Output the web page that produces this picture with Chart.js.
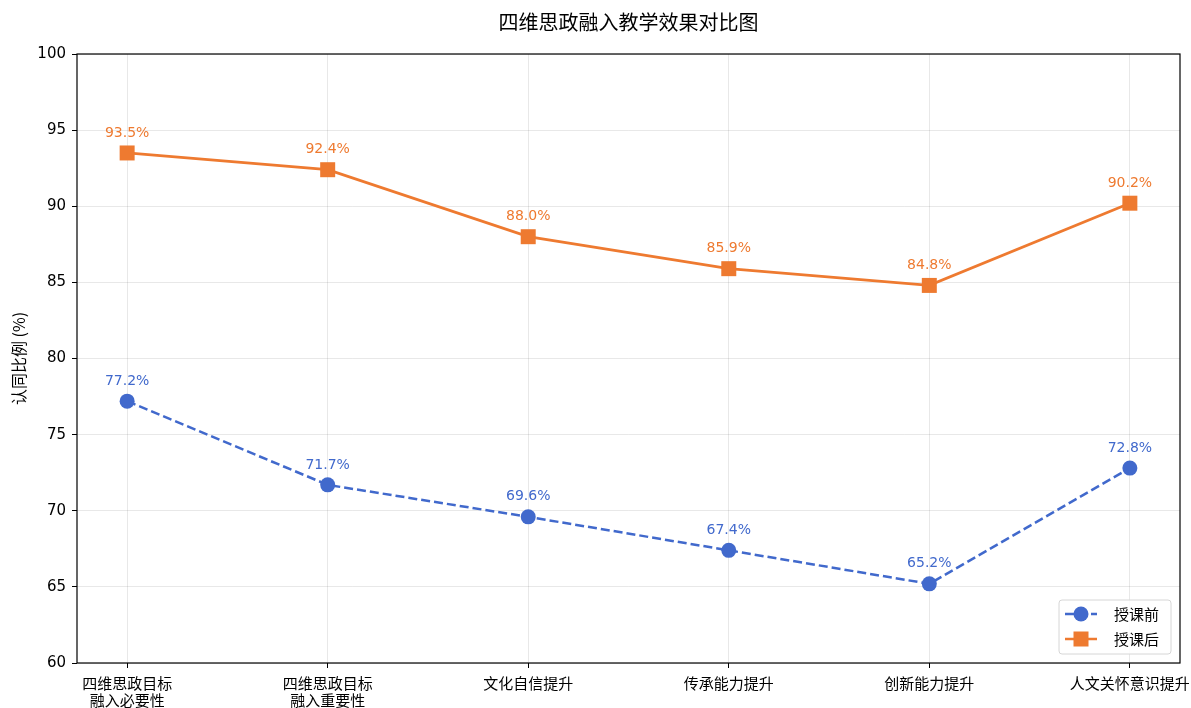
<!DOCTYPE html>
<html>
<head>
<meta charset="utf-8">
<script src="https://cdn.jsdelivr.net/npm/chart.js@4.4.1/dist/chart.umd.min.js"></script>
<style>
  html, body { margin: 0; padding: 0; background: #fff; }
  #wrap { width: 1191px; height: 708px; }
</style>
</head>
<body>
<div id="wrap"><canvas id="c" width="1191" height="708"></canvas></div>
<script>
const categories = [['四维思政目标', '融入必要性'], ['四维思政目标', '融入重要性'], '文化自信提升', '传承能力提升', '创新能力提升', '人文关怀意识提升'];
const beforeValues = [77.2, 71.7, 69.6, 67.4, 65.2, 72.8];
const afterValues = [93.5, 92.4, 88.0, 85.9, 84.8, 90.2];
const yTicks = [60, 65, 70, 75, 80, 85, 90, 95, 100];

const BLUE = '#4169CC';
const ORANGE = '#EE7A30';
const CJK = '"Noto Sans CJK SC", "Noto Sans", sans-serif';
const NUM = '"DejaVu Sans", "Noto Sans", sans-serif';

function toPoints(vals) {
    return vals.map((v, i) => ({ x: i, y: v }));
}

// value labels above every point
const valueLabels = {
    id: 'valueLabels',
    afterDatasetsDraw(chart) {
        const ctx = chart.ctx;
        ctx.save();
        ctx.font = '14px ' + NUM;
        ctx.textAlign = 'center';
        ctx.textBaseline = 'middle';
        chart.data.datasets.forEach((ds, di) => {
            const meta = chart.getDatasetMeta(di);
            ctx.fillStyle = ds.borderColor;
            meta.data.forEach((pt, i) => {
                ctx.fillText(ds.data[i].y.toFixed(1) + '%', pt.x, pt.y - 20);
            });
        });
        ctx.restore();
    }
};

// spines, title, y title and legend like the original
const frame = {
    id: 'frame',
    afterDraw(chart) {
        const ctx = chart.ctx;
        const a = chart.chartArea;
        ctx.save();
        ctx.strokeStyle = '#000';
        ctx.lineWidth = 1.2;
        ctx.strokeRect(a.left, a.top, a.right - a.left, a.bottom - a.top);

        ctx.fillStyle = '#000';
        ctx.font = '20px ' + CJK;
        ctx.textAlign = 'center';
        ctx.textBaseline = 'middle';
        ctx.fillText('四维思政融入教学效果对比图', (a.left + a.right) / 2, 22);

        ctx.save();
        ctx.translate(19, (a.top + a.bottom) / 2);
        ctx.rotate(-Math.PI / 2);
        ctx.font = '16px ' + CJK;
        ctx.fillText('认同比例 (%)', 0, 0);
        ctx.restore();

        // legend box
        const bx = 1059, by = 600, bw = 112, bh = 54;
        ctx.fillStyle = 'rgba(255,255,255,0.85)';
        ctx.strokeStyle = '#d6d6d6';
        ctx.lineWidth = 1;
        ctx.beginPath();
        ctx.roundRect(bx, by, bw, bh, 3);
        ctx.fill();
        ctx.stroke();
        chart.data.datasets.forEach((ds, i) => {
            const y = by + 14 + i * 25;
            ctx.strokeStyle = ds.borderColor;
            ctx.lineWidth = 2.5;
            ctx.setLineDash(ds.borderDash || []);
            ctx.beginPath();
            ctx.moveTo(bx + 6, y);
            ctx.lineTo(bx + 38, y);
            ctx.stroke();
            ctx.setLineDash([]);
            ctx.fillStyle = ds.borderColor;
            if (ds.pointStyle === 'rect') {
                ctx.fillRect(bx + 22 - 7.5, y - 7.5, 15, 15);
            } else {
                ctx.beginPath();
                ctx.arc(bx + 22, y, 7.5, 0, Math.PI * 2);
                ctx.fill();
            }
            ctx.fillStyle = '#000';
            ctx.font = '15px ' + CJK;
            ctx.textAlign = 'left';
            ctx.fillText(ds.label, bx + 55, y);
        });
        ctx.restore();
    }
};

new Chart(document.getElementById('c'), {
    type: 'line',
    data: {
        datasets: [
            {
                label: '授课前',
                data: toPoints(beforeValues),
                borderColor: BLUE,
                backgroundColor: BLUE,
                borderWidth: 2.5,
                borderDash: [9, 4],
                pointStyle: 'circle',
                pointRadius: 7.5,
                pointHoverRadius: 7.5,
                pointBorderWidth: 0,
                tension: 0
            },
            {
                label: '授课后',
                data: toPoints(afterValues),
                borderColor: ORANGE,
                backgroundColor: ORANGE,
                borderWidth: 2.8,
                pointStyle: 'rect',
                pointRadius: 10.6,
                pointHoverRadius: 10.6,
                pointBorderWidth: 0,
                tension: 0
            }
        ]
    },
    options: {
        responsive: false,
        animation: false,
        events: [],
        layout: { autoPadding: false, padding: { left: 0, right: 11, top: 54, bottom: 0 } },
        plugins: {
            legend: { display: false },
            title: { display: false },
            tooltip: { enabled: false }
        },
        scales: {
            x: {
                type: 'linear',
                min: -0.25,
                max: 5.25,
                afterBuildTicks(scale) {
                    scale.ticks = categories.map((c, i) => ({ value: i }));
                },
                afterFit(scale) {
                    scale.height = 708 - 663;
                    scale.paddingLeft = 0;
                    scale.paddingRight = 0;
                },
                ticks: {
                    autoSkip: false,
                    maxRotation: 0,
                    padding: 7,
                    color: '#000',
                    font: { family: CJK, size: 15, lineHeight: 1.13 },
                    callback: (v) => categories[v]
                },
                grid: { color: 'rgba(0,0,0,0.09)', tickColor: '#000', tickLength: 5 },
                border: { display: false }
            },
            y: {
                min: 60,
                max: 100,
                afterBuildTicks(scale) {
                    scale.ticks = yTicks.map(v => ({ value: v }));
                },
                afterFit(scale) {
                    scale.width = 77;
                    scale.paddingTop = 0;
                    scale.paddingBottom = 0;
                },
                ticks: {
                    padding: 6,
                    color: '#000',
                    font: { family: NUM, size: 15 }
                },
                grid: { color: 'rgba(0,0,0,0.09)', tickColor: '#000', tickLength: 5 },
                border: { display: false }
            }
        }
    },
    plugins: [valueLabels, frame]
});
</script>
</body>
</html>
